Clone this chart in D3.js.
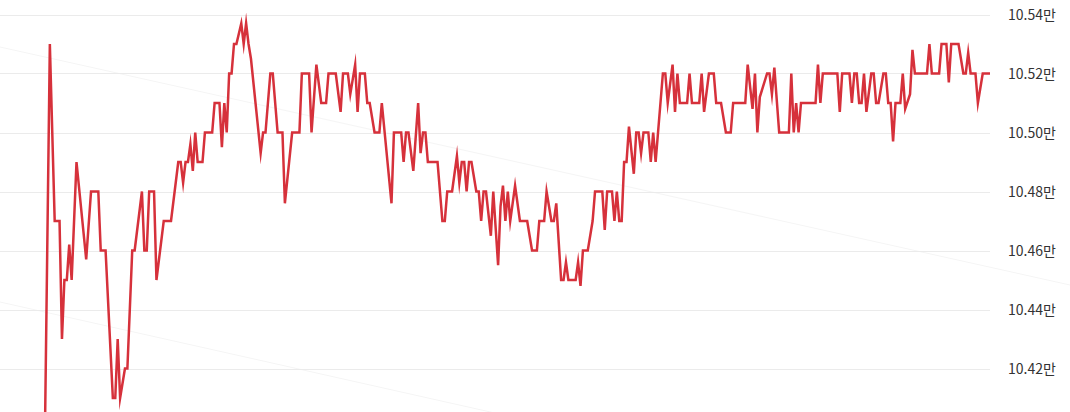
<!DOCTYPE html>
<html>
<head>
<meta charset="utf-8">
<script src="https://cdn.jsdelivr.net/npm/d3@7"></script>
<style>
html,body{margin:0;padding:0;background:#fff;overflow:hidden;}
svg{display:block;}
</style>
</head>
<body>
<svg id="chart" width="1070" height="412"></svg>
<script>
// minutes since the first tick of the session
const minutes = [0,2,4,6,7,8,9,10,11,13,17,19,22,23,25,28,29,30,31,33,34,36,37,40,41,42,43,45,46,49,52,55,56,57,58,59,60,61,62,63,65,66,69,70,72,73,74,75,76,77,78,79,81,82,83,84,85,89,90,91,93,94,96,98,99,102,105,106,109,110,112,114,116,117,120,122,123,125,126,128,129,130,132,133,134,136,138,139,143,144,147,148,149,150,152,154,155,156,157,158,162,164,165,166,168,170,171,172,173,174,175,176,178,179,180,181,182,184,185,187,188,189,190,191,192,194,196,199,201,203,204,206,207,209,210,211,213,214,215,216,219,220,221,222,224,226,227,230,231,232,234,235,236,237,238,239,240,241,243,244,245,246,247,249,250,251,252,253,254,255,256,257,259,260,261,262,265,266,267,270,271,272,274,276,277,279,281,283,284,289,290,292,293,294,295,298,299,300,301,303,307,308,309,310,311,312,318,319,320,321,327,328,329,332,333,334,335,336,337,338,339,341,342,343,344,346,347,348,349,350,351,353,354,355,357,358,359,364,365,366,369,370,372,373,374,377,379,380,381,382,384,385,387,390];
// price (won)
const prices = [104000,105300,104700,104700,104300,104500,104500,104620,104500,104900,104570,104800,104800,104600,104600,104100,104100,104300,104100,104200,104200,104600,104600,104800,104600,104600,104800,104800,104500,104700,104700,104900,104900,104830,104900,104900,104960,104870,105000,104900,104900,105000,105000,105100,105100,104950,105100,105000,105200,105200,105300,105300,105370,105300,105370,105300,105250,104930,105000,105000,105200,105200,105000,105000,104760,105000,105000,105200,105200,105000,105230,105100,105100,105200,105200,105070,105200,105200,105130,105230,105070,105200,105200,105100,105100,105000,105000,105100,104760,105000,105000,104900,105000,105000,104870,105100,104930,105000,105000,104900,104900,104700,104700,104800,104800,104920,104830,104900,104900,104800,104900,104900,104800,104800,104700,104800,104800,104650,104800,104550,104750,104820,104700,104800,104700,104820,104700,104700,104600,104600,104700,104700,104800,104700,104700,104760,104500,104500,104560,104500,104500,104560,104480,104600,104600,104700,104800,104800,104670,104800,104800,104700,104800,104700,104700,104900,104900,105020,104860,105000,105000,104930,105000,105000,104900,105000,104900,105000,105100,105200,105200,105100,105230,105070,105200,105100,105100,105200,105100,105100,105200,105070,105200,105200,105100,105100,105000,105000,105100,105100,105230,105080,105200,105000,105120,105200,105200,105130,105220,105000,105000,105200,105000,105100,105000,105100,105100,105230,105100,105200,105200,105070,105200,105200,105100,105200,105200,105100,105100,105200,105070,105200,105200,105100,105100,105200,105200,105100,105100,104970,105100,105100,105200,105080,105130,105280,105200,105200,105300,105200,105200,105300,105300,105170,105300,105300,105200,105200,105270,105200,105200,105100,105200,105200];
const tickValues = [104200,104400,104600,104800,105000,105200,105400];
const tickLabels = ["10.42만","10.44만","10.46만","10.48만","10.50만","10.52만","10.54만"];
const sessionLength = 390;

const data = minutes.map((m,i)=>({m:m, v:prices[i]}));

const W = 1070, H = 412;
const plotLeft = 0, plotRight = 990;
const svg = d3.select("#chart");

const x = d3.scaleLinear().domain([0, sessionLength]).range([45, plotRight]);
const y = d3.scaleLinear().domain([104200, 105400]).range([368.5, 14.5]);

// faint background diagonals
const bg = svg.append("g");
bg.append("line").attr("x1",0).attr("y1",47).attr("x2",W).attr("y2",285)
  .attr("stroke","#f5f5f5").attr("stroke-width",1);
bg.append("line").attr("x1",0).attr("y1",302).attr("x2",W).attr("y2",542)
  .attr("stroke","#f5f5f5").attr("stroke-width",1);

// grid
const grid = svg.append("g");
grid.selectAll("line").data(tickValues).join("line")
  .attr("x1", plotLeft).attr("x2", plotRight)
  .attr("y1", d=>Math.round(y(d))+0.5).attr("y2", d=>Math.round(y(d))+0.5)
  .attr("stroke","#ebebeb").attr("stroke-width",1);

// right axis labels
const axis = d3.axisRight(y).tickValues(tickValues)
  .tickFormat((d,i)=>tickLabels[i]).tickSize(0).tickPadding(0);
const ag = svg.append("g").attr("transform","translate(1008,0)").call(axis);
ag.select(".domain").remove();
ag.selectAll("text")
  .attr("font-family","'Noto Sans CJK KR','Noto Sans',sans-serif")
  .attr("font-size","14px")
  .attr("fill","#333")
  .attr("dy","0.35em");

// price line
const line = d3.line().x(d=>x(d.m)).y(d=>y(d.v));
svg.append("path").datum(data)
  .attr("d", line)
  .attr("fill","none")
  .attr("stroke","#d6313b")
  .attr("stroke-width",2.5)
  .attr("stroke-linejoin","miter")
  .attr("stroke-miterlimit",10);
</script>
</body>
</html>
